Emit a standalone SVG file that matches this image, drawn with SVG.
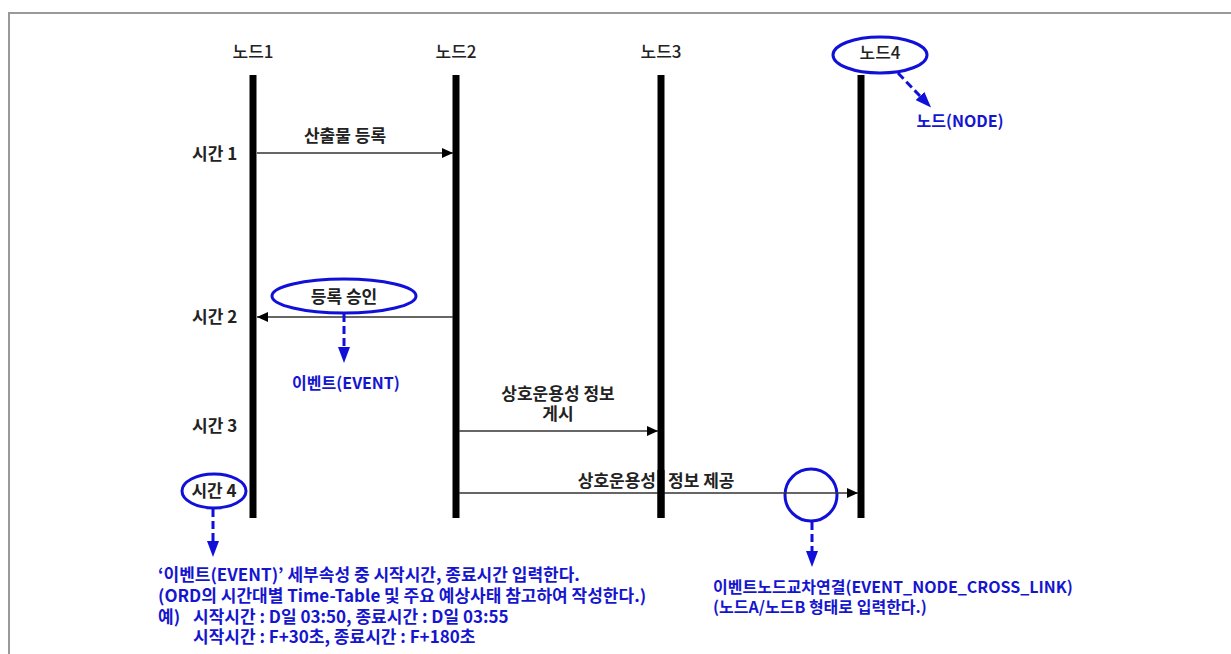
<svg xmlns="http://www.w3.org/2000/svg" width="1231" height="654" viewBox="0 0 1231 654">
<style>
text{font-family:"Noto Sans CJK KR","Liberation Sans",sans-serif;font-size:17px}
.k{fill:#222;font-weight:bold}
.h{fill:#222;font-weight:500}
.b{fill:#1515d0;font-weight:bold}
.s{font-size:16px}
.life{stroke:#000;stroke-width:7}
.msg{stroke:#333;stroke-width:1.4;fill:none;marker-end:url(#ah)}
.ell{fill:none;stroke:#1010d8;stroke-width:3}
.dash{stroke:#1010d8;stroke-width:3;stroke-dasharray:8 4;fill:none;marker-end:url(#bh)}
</style>
<defs>
<marker id="ah" markerUnits="userSpaceOnUse" markerWidth="11" markerHeight="10" viewBox="0 0 11 10" refX="11" refY="5" orient="auto"><path d="M0,0 L11,5 L0,10 z" fill="#000"/></marker>
<marker id="bh" markerUnits="userSpaceOnUse" markerWidth="16" markerHeight="12" viewBox="0 0 16 12" refX="0" refY="6" orient="auto"><path d="M0,0 L16,6 L0,12 z" fill="#1010d8"/></marker>
</defs>
<rect width="1231" height="654" fill="#fff"/>
<path d="M9,654 V13 H1231" fill="none" stroke="#999" stroke-width="2"/>

<g id="node1"><text class="h" x="253" y="58" text-anchor="middle">노드1</text><line class="life" x1="253" y1="75" x2="253" y2="518"/></g>
<g id="node2"><text class="h" x="456" y="58" text-anchor="middle">노드2</text><line class="life" x1="456" y1="75" x2="456" y2="518"/></g>
<g id="node3"><text class="h" x="661" y="58" text-anchor="middle">노드3</text><line class="life" x1="661" y1="75" x2="661" y2="518"/></g>
<g id="node4"><ellipse class="ell" cx="880" cy="55" rx="47" ry="18"/><text class="h" x="880" y="59" text-anchor="middle">노드4</text><line class="life" x1="861" y1="75" x2="861" y2="518"/></g>

<g id="time-labels">
<text class="k" x="192" y="160">시간 1</text>
<text class="k" x="192" y="323">시간 2</text>
<text class="k" x="192" y="432">시간 3</text>
<g id="time4"><ellipse class="ell" cx="214" cy="491" rx="32" ry="17"/><text class="k" x="214" y="497" text-anchor="middle">시간 4</text></g>
</g>

<g id="event-approve"><ellipse class="ell" cx="344" cy="296" rx="72" ry="17"/><text class="k" x="344" y="303" text-anchor="middle">등록 승인</text></g>
<g id="cross-circle"><circle class="ell" cx="811" cy="495" r="26"/></g>

<g id="connectors">
<line class="msg" x1="257" y1="153" x2="453" y2="153"/>
<line class="msg" x1="453" y1="317" x2="257" y2="317"/>
<line class="msg" x1="459" y1="431" x2="658" y2="431"/>
<line class="msg" x1="459" y1="493" x2="858" y2="493"/>
<line class="dash" x1="898" y1="73" x2="920" y2="96"/>
<line class="dash" x1="344" y1="314" x2="344" y2="347"/>
<line class="dash" x1="213" y1="509" x2="213" y2="541"/>
<line class="dash" x1="812" y1="522" x2="812" y2="551"/>
</g>

<g id="message-labels">
<text class="k" x="345" y="142" text-anchor="middle">산출물 등록</text>
<text class="k" x="558" y="400" text-anchor="middle">상호운용성 정보</text>
<text class="k" x="558" y="420" text-anchor="middle">게시</text>
<text class="k" x="656" y="487" text-anchor="end">상호운용성</text>
<text class="k" x="668" y="487">정보 제공</text>
</g>
<line class="life" x1="661" y1="470" x2="661" y2="518"/>

<g id="annotations">
<text class="b s" x="960" y="127" text-anchor="middle">노드(NODE)</text>
<text class="b s" x="346" y="389" text-anchor="middle">이벤트(EVENT)</text>
<text class="b" x="158" y="581">‘이벤트(EVENT)’ 세부속성 중 시작시간, 종료시간 입력한다.</text>
<text class="b" x="158" y="602">(ORD의 시간대별 Time-Table 및 주요 예상사태 참고하여 작성한다.)</text>
<text class="b" x="158" y="623">예)</text>
<text class="b" x="193" y="623">시작시간 : D일 03:50, 종료시간 : D일 03:55</text>
<text class="b" x="193" y="643">시작시간 : F+30초, 종료시간 : F+180초</text>
<text class="b s" x="713" y="593">이벤트노드교차연결(EVENT_NODE_CROSS_LINK)</text>
<text class="b s" x="713" y="613">(노드A/노드B 형태로 입력한다.)</text>
</g>
</svg>
